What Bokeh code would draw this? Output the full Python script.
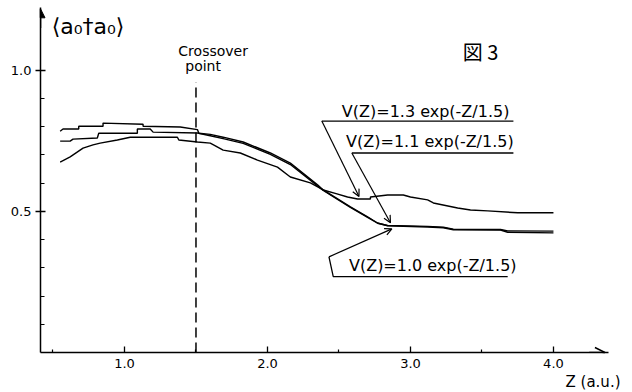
from bokeh.plotting import figure
from bokeh.models import Range1d, FixedTicker, Arrow, OpenHead, NormalHead, Title
from bokeh.core.properties import value
from bokeh.embed import file_html
from bokeh.resources import INLINE

# ---- data ----
# V(Z) = 1.3 exp(-Z/1.5)  (starts lowest, ends highest)
z_v13 = [0.55, 0.62, 0.71, 0.78, 0.83, 0.95, 1.04, 1.37, 1.38, 1.51, 1.60, 1.69, 1.81,
         1.93, 2.07, 2.16, 2.30, 2.39, 2.48, 2.56, 2.63, 2.72, 2.72, 2.84, 2.95, 3.00,
         3.12, 3.16, 3.33, 3.42, 3.54, 3.75, 4.00]
occ_v13 = [0.675, 0.693, 0.724, 0.736, 0.742, 0.753, 0.763, 0.763, 0.753, 0.746, 0.742,
           0.717, 0.707, 0.682, 0.657, 0.622, 0.601, 0.576, 0.563, 0.551, 0.544, 0.544,
           0.551, 0.558, 0.558, 0.551, 0.541, 0.530, 0.512, 0.505, 0.502, 0.495, 0.495]

# V(Z) = 1.1 exp(-Z/1.5)
z_v11 = [0.55, 0.62, 0.64, 0.81, 0.82, 1.09, 1.09, 1.18, 1.20, 1.51, 1.60, 1.69, 1.83,
         2.02, 2.16, 2.35, 2.39, 2.58, 2.70, 2.77, 2.84, 3.12, 3.23, 3.30, 3.63, 3.68, 4.00]
occ_v11 = [0.749, 0.749, 0.756, 0.760, 0.777, 0.777, 0.792, 0.792, 0.781, 0.778, 0.768,
           0.758, 0.741, 0.702, 0.666, 0.590, 0.574, 0.514, 0.479, 0.458, 0.450, 0.447,
           0.444, 0.437, 0.436, 0.431, 0.430]

# V(Z) = 1.0 exp(-Z/1.5)  (starts highest)
z_v10 = [0.55, 0.57, 0.68, 0.68, 0.85, 0.85, 1.13, 1.13, 1.39, 1.51, 1.52, 1.60, 1.69,
         1.83, 2.02, 2.16, 2.35, 2.39, 2.58, 2.70, 2.77, 2.84, 3.12, 3.23, 3.30, 3.63,
         3.68, 4.00]
occ_v10 = [0.784, 0.792, 0.792, 0.802, 0.802, 0.813, 0.809, 0.802, 0.799, 0.790, 0.777,
           0.773, 0.763, 0.746, 0.707, 0.671, 0.594, 0.576, 0.516, 0.481, 0.459, 0.449,
           0.445, 0.442, 0.435, 0.434, 0.426, 0.424]

crossover_z = 1.5
y_ticks = [0.5, 1.0]
y_tick_labels = ["0.5", "1.0"]
y_minor = [0.1, 0.2, 0.3, 0.4, 0.6, 0.7, 0.8, 0.9]
x_ticks = [1, 2, 3, 4]
x_tick_labels = ["1.0", "2.0", "3.0", "4.0"]
x_minor = [0.5, 1.5, 2.5, 3.5]

label_v13 = "V(Z)=1.3 exp(-Z/1.5)"
label_v11 = "V(Z)=1.1 exp(-Z/1.5)"
label_v10 = "V(Z)=1.0 exp(-Z/1.5)"
x_title = "Z (a.u.)"

# ---- figure ----
X0, X1 = 0.4126, 4.385
Y0, Y1 = 0.0, 1.2226
p = figure(width=630, height=390, output_backend="svg", toolbar_location=None,
           x_range=Range1d(X0, X1), y_range=Range1d(Y0, Y1),
           min_border_left=40, min_border_right=22, min_border_top=7,
           min_border_bottom=37, title=None)
p.outline_line_color = None
p.grid.visible = False
p.background_fill_color = "white"
p.border_fill_color = "white"

for ax in (p.xaxis, p.yaxis):
    ax.axis_line_color = "black"
    ax.axis_line_width = 1.5
    ax.major_tick_line_color = "black"
    ax.major_tick_line_width = 1.3
    ax.minor_tick_line_color = "black"
    ax.minor_tick_line_width = 1.2
    ax.major_label_text_font = "DejaVu Sans"
    ax.major_label_text_font_size = "13px"
    ax.major_label_text_color = "black"

p.yaxis.ticker = FixedTicker(ticks=y_ticks, minor_ticks=y_minor)
p.yaxis.major_label_overrides = dict(zip(y_ticks, y_tick_labels))
p.yaxis.major_tick_in = 5
p.yaxis.major_tick_out = 5
p.yaxis.minor_tick_in = 4
p.yaxis.minor_tick_out = 0
p.yaxis.major_label_standoff = 4

p.xaxis.ticker = FixedTicker(ticks=x_ticks, minor_ticks=x_minor)
p.xaxis.major_label_overrides = dict(zip(x_ticks, x_tick_labels))
p.xaxis.major_tick_in = 6
p.xaxis.major_tick_out = 0
p.xaxis.minor_tick_in = 3
p.xaxis.minor_tick_out = 0
p.xaxis.major_label_standoff = 6

# x axis title, right-aligned below the axis
p.add_layout(Title(text=x_title, align="right", offset=-12, standoff=0,
                   text_font="DejaVu Sans", text_font_size="15px",
                   text_font_style="normal", text_color="black"), "below")

# axis arrowheads
p.add_layout(Arrow(x_start=X0, y_start=1.15, x_end=X0, y_end=1.218,
                   end=NormalHead(size=9, fill_color="black", line_color="black"),
                   line_width=1.5, line_color="black"))
p.add_layout(Arrow(x_start=4.25, y_start=0.0, x_end=4.36, y_end=0.0,
                   end=OpenHead(size=10, line_width=1.5, line_color="black"),
                   line_width=1.5, line_color="black"))

# curves
for zs, occ in ((z_v13, occ_v13), (z_v11, occ_v11), (z_v10, occ_v10)):
    p.line(zs, occ, line_color="black", line_width=1.4)

# crossover line
p.line([crossover_z, crossover_z], [0.0, 0.958], line_color="black",
       line_width=1.5, line_dash="10 5")
p.text(x=[1.62, 1.55], y=[1.067, 1.014], text=["Crossover", "point"],
       text_font=value("DejaVu Sans"), text_font_size="14px",
       text_align="center", text_baseline="middle", text_color="black")

# y label and figure number
p.text(x=[0.745], y=[1.155], text=["⟨a₀†a₀⟩"], text_font=value("DejaVu Sans"),
       text_font_size="22px", text_align="center", text_baseline="middle",
       text_color="black")
p.text(x=[3.49], y=[1.067], text=["図 3"], text_font=value("Noto Sans CJK JP"),
       text_font_size="20px", text_align="center", text_baseline="middle",
       text_color="black")

# curve labels with leaders
p.text(x=[2.52, 2.55, 2.57], y=[0.855, 0.749, 0.307],
       text=[label_v13, label_v11, label_v10], text_font=value("DejaVu Sans"),
       text_font_size="16px", text_align="left", text_baseline="middle",
       text_color="black")
p.line([2.38, 3.72], [0.820, 0.820], line_color="black", line_width=1.3)
p.line([2.59, 3.72], [0.707, 0.707], line_color="black", line_width=1.3)
p.line([3.68, 2.46, 2.43], [0.269, 0.269, 0.339], line_color="black", line_width=1.3)
for xs, ys, xe, ye in ((2.38, 0.820, 2.64, 0.553), (2.59, 0.707, 2.86, 0.460),
                       (2.43, 0.339, 2.87, 0.438)):
    p.add_layout(Arrow(x_start=xs, y_start=ys, x_end=xe, y_end=ye,
                       end=OpenHead(size=7, line_width=1.2, line_color="black"),
                       line_width=1.2, line_color="black"))

open("out.html", "w").write(file_html(p, INLINE))
